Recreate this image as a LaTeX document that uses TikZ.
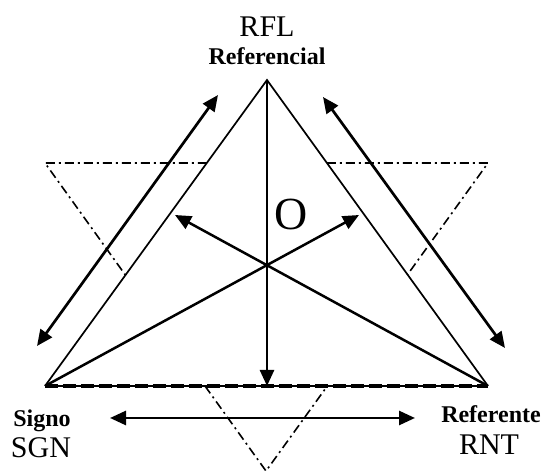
\documentclass[tikz,border=0pt]{standalone}
\usepackage{fontspec}
\setmainfont{Liberation Serif}
\usetikzlibrary{arrows.meta}

\begin{document}
\begin{tikzpicture}[
  x=1pt, y=-1pt,
  every node/.style={inner sep=0pt},
  big/.style={font=\fontsize{30}{34}\selectfont, anchor=base},
  small/.style={font=\fontsize{24}{27}\selectfont\bfseries, anchor=base},
  edge/.style={line width=1.7pt},
  spoke/.style={line width=2.5pt, -{Triangle[length=16pt,width=14pt]}},
  twoway/.style={line width=2.7pt, {Triangle[length=16pt,width=14pt]}-{Triangle[length=16pt,width=14pt]}},
  ghost/.style={line width=1.6pt, dash pattern=on 9pt off 4pt on 2pt off 4pt}
]
\useasboundingbox (0,0) rectangle (542,473);

% corners of the triangle
\coordinate (rfl-c) at (267,80);
\coordinate (sgn-c) at (45,386);
\coordinate (rnt-c) at (488,386);
\coordinate (mid) at (267,386);
\coordinate (ul) at (175,215);
\coordinate (ur) at (359,215);

% inverted triangle
\coordinate (g1) at (45,163);
\coordinate (g2) at (488,163);
\coordinate (g3) at (266,471);
\coordinate (g1a) at (intersection of g1--g2 and rfl-c--sgn-c);
\coordinate (g2a) at (intersection of g1--g2 and rfl-c--rnt-c);
\coordinate (g1b) at (intersection of g1--g3 and rfl-c--sgn-c);
\coordinate (g2b) at (intersection of g2--g3 and rfl-c--rnt-c);
\coordinate (g3a) at (intersection of g1--g3 and sgn-c--rnt-c);
\coordinate (g3b) at (intersection of g2--g3 and sgn-c--rnt-c);

% outer arrows
\coordinate (la) at (218,95);
\coordinate (lb) at (37,346);
\coordinate (ra) at (323,97);
\coordinate (rb) at (505,348);
\coordinate (ba) at (110,418);
\coordinate (bb) at (415,418);

\node[big] (rfl) at (267,37) {RFL};
\node[small] (referencial) at (267,65) {Referencial};
\node[small] (signo) at (42,427) {Signo};
\node[big] (sgn) at (41,458) {SGN};
\node[small] (referente) at (491,423) {Referente};
\node[big] (rnt) at (489,455) {RNT};
\node[big, font=\fontsize{46}{50}\selectfont] (o) at (291,230) {O};

\draw[ghost] (g1a) -- (g1) -- (g1b);
\draw[ghost] (g2a) -- (g2) -- (g2b);
\draw[ghost] (g3a) -- (g3) -- (g3b);

\draw[edge] (sgn-c) -- (rfl-c) -- (rnt-c);
\draw[line width=1.2pt] (sgn-c) -- (rnt-c);
\draw[line width=4pt, dash pattern=on 13pt off 5pt] (sgn-c) -- (rnt-c);

\draw[spoke] (rfl-c) -- (mid);
\draw[spoke] (rnt-c) -- (ul);
\draw[spoke] (sgn-c) -- (ur);

\draw[twoway] (la) -- (lb);
\draw[twoway] (ra) -- (rb);
\draw[twoway] (ba) -- (bb);

\end{tikzpicture}
\end{document}
